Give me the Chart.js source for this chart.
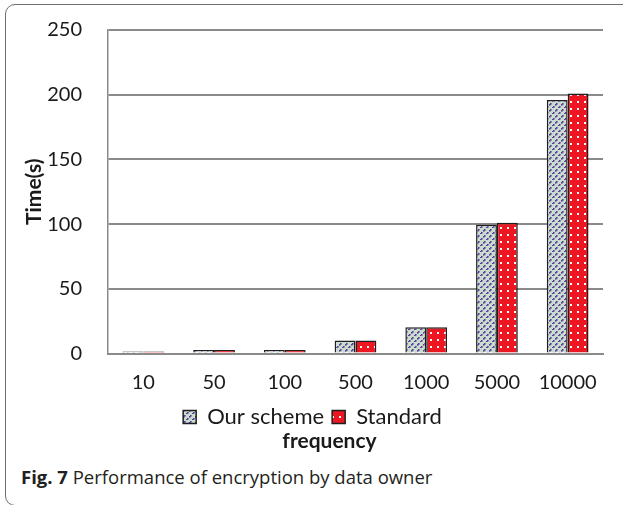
<!DOCTYPE html>
<html>
<head>
<meta charset="utf-8">
<script src="https://cdn.jsdelivr.net/npm/chart.js@4/dist/chart.umd.min.js"></script>
<style>
  html, body { margin: 0; padding: 0; background: #fff; }
  body { width: 623px; height: 505px; position: relative; overflow: hidden; }
  #frame {
    position: absolute; left: 5px; top: 4px; width: 640px; height: 502px;
    border: 1.5px solid #6e6e6e; border-radius: 10px; box-sizing: border-box;
  }
  #chartBox { position: absolute; left: 0; top: 0; width: 623px; height: 455px; }
  #caption {
    position: absolute; left: 21px; top: 464px;
    font-family: "Open Sans", sans-serif; font-size: 18.5px; color: #231f20;
    white-space: nowrap;
  }
  #caption b { font-weight: 700; }
</style>
</head>
<body>
<div id="frame"></div>
<div id="chartBox"><canvas id="chart"></canvas></div>
<div id="caption"><b>Fig. 7</b> Performance of encryption by data owner</div>
<script>
// Encryption time (seconds) per frequency
const frequencies = ['10', '50', '100', '500', '1000', '5000', '10000'];
const ourScheme = [1.5, 2.8, 2.8, 10, 20.3, 99.5, 196];
const standard = [1.5, 2.8, 2.8, 10, 20.3, 101, 201];
const yTicks = [0, 50, 100, 150, 200, 250];

// Hatched fill: pale green with dashed purple diagonals
function makeHatch() {
  const c = document.createElement('canvas');
  c.width = 6; c.height = 6;
  const g = c.getContext('2d');
  g.fillStyle = '#c9ddcd';
  g.fillRect(0, 0, 6, 6);
  g.fillStyle = '#5b36a0';
  const cells = [[0, 5], [1, 4], [3, 2], [4, 1]];
  cells.forEach(([x, y]) => g.fillRect(x, y, 1.6, 1.6));
  return g.createPattern(c, 'repeat');
}

// Dotted fill: red with white dots
function makeDots() {
  const c = document.createElement('canvas');
  c.width = 7; c.height = 7;
  const g = c.getContext('2d');
  g.fillStyle = '#ee1620';
  g.fillRect(0, 0, 7, 7);
  g.fillStyle = '#ffffff';
  g.fillRect(3, 3, 2, 2);
  return g.createPattern(c, 'repeat');
}

// Axis caption drawn beneath the legend
const axisCaption = {
  id: 'axisCaption',
  afterDraw(chart) {
    const { ctx, chartArea, legend } = chart;
    ctx.save();
    ctx.font = 'bold 21px Lato';
    ctx.fillStyle = '#1a1a1a';
    ctx.textAlign = 'center';
    ctx.textBaseline = 'middle';
    ctx.fillText('frequency', (chartArea.left + chartArea.right) / 2 - 26, legend.bottom + 3);
    ctx.restore();
  }
};

new Chart(document.getElementById('chart'), {
  type: 'bar',
  data: {
    labels: frequencies,
    datasets: [
      {
        label: 'Our scheme',
        data: ourScheme,
        backgroundColor: makeHatch(),
        borderColor: '#1e1e1e',
        borderWidth: 1.5
      },
      {
        label: 'Standard',
        data: standard,
        backgroundColor: makeDots(),
        borderColor: '#1e1e1e',
        borderWidth: 1.5
      }
    ]
  },
  options: {
    responsive: true,
    maintainAspectRatio: false,
    animation: false,
    layout: { padding: { top: 30, right: 20, bottom: 17, left: 22 } },
    datasets: { bar: { categoryPercentage: 0.59, barPercentage: 1.0 } },
    plugins: {
      legend: {
        position: 'bottom',
        labels: {
          font: { family: 'Lato', size: 22 },
          color: '#1a1a1a',
          boxWidth: 13,
          boxHeight: 13,
          padding: 8
        }
      },
      tooltip: { enabled: false }
    },
    scales: {
      x: {
        grid: { display: false, drawTicks: true, tickLength: 13.5 },
        border: { display: true, color: '#8a8a8a', width: 2 },
        ticks: {
          font: { family: 'Lato', size: 20 },
          color: '#1a1a1a',
          padding: 3.5
        }
      },
      y: {
        min: 0,
        max: 250,
        afterBuildTicks(scale) {
          scale.ticks = yTicks.map(v => ({ value: v }));
        },
        afterFit(scale) { scale.width = 86; },
        grid: {
          color: '#8a8a8a', lineWidth: 2, tickLength: 24, drawTicks: true,
          tickColor: '#8a8a8a', tickWidth: 2,
          tickBorderDash: [3, 40], tickBorderDashOffset: 19
        },
        border: { display: true, color: '#8a8a8a', width: 1.5 },
        ticks: {
          font: { family: 'Lato', size: 20 },
          color: '#1a1a1a',
          padding: 2
        },
        title: {
          display: true,
          text: 'Time(s)',
          font: { family: 'Lato', size: 21, weight: 'bold' },
          color: '#1a1a1a',
          padding: 0
        }
      }
    }
  },
  plugins: [axisCaption]
});
</script>
</body>
</html>
